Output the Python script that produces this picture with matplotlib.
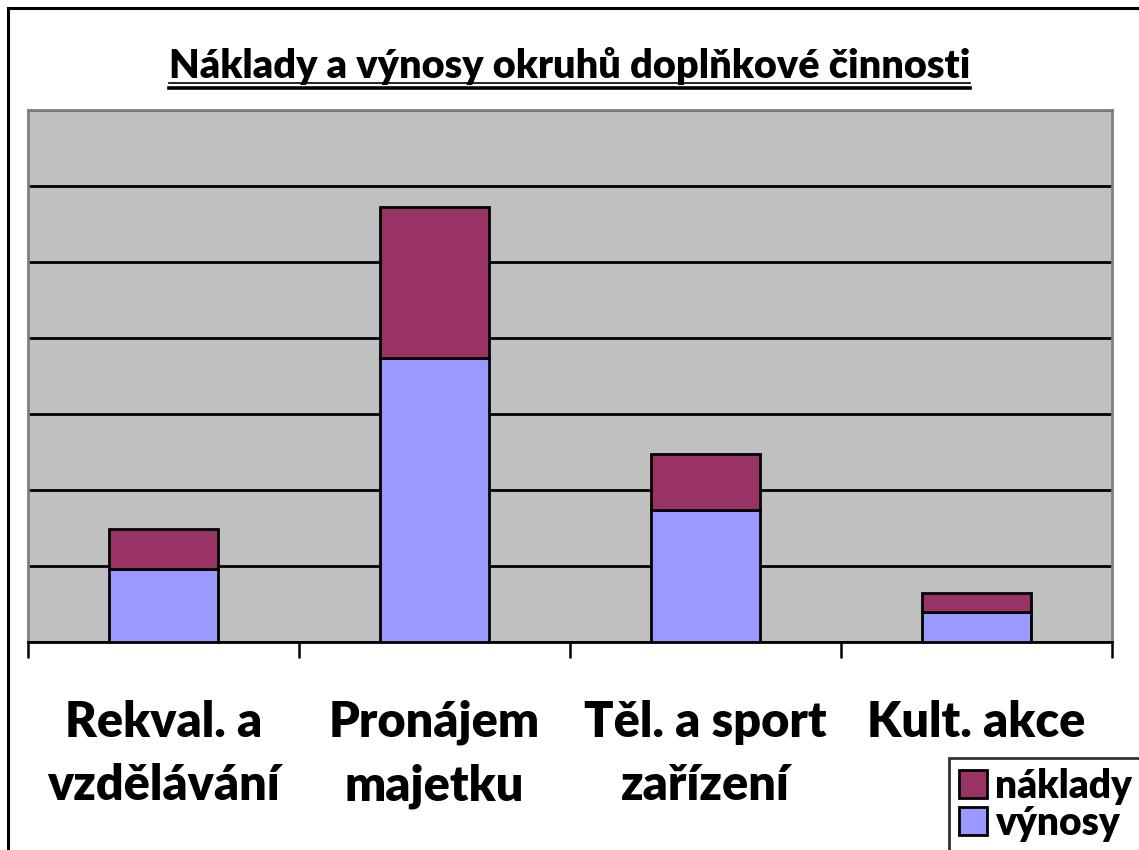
import matplotlib
matplotlib.use("Agg")
import matplotlib.pyplot as plt
from matplotlib.patches import Rectangle, Patch
from matplotlib.lines import Line2D
import numpy as np

categories = ["Rekval. a\nvzdělávání", "Pronájem\nmajetku", "Těl. a sport\nzařízení", "Kult. akce"]
vynosy = [0.96, 3.74, 1.74, 0.39]
naklady = [0.53, 1.98, 0.74, 0.25]
title = "Náklady a výnosy okruhů doplňkové činnosti"

W, H = 1139, 850
DPI = 100
WEIGHT = 'heavy'
plt.rcParams['font.family'] = ['Lato', 'DejaVu Sans']
plt.rcParams['font.weight'] = 'bold'

fig = plt.figure(figsize=(W / DPI, H / DPI), dpi=DPI)

def fx(px):
    return px / W

def fy(py):
    return 1 - py / H

# outer border
fig.patches.append(Rectangle((fx(8), fy(870)), fx(1160) - fx(8), fy(8) - fy(870),
                             transform=fig.transFigure, fill=False, lw=2.2,
                             edgecolor='black', zorder=0))

ax = fig.add_axes([fx(28), fy(642), fx(1112) - fx(28), fy(110) - fy(642)])
ax.set_facecolor('#C0C0C0')
x = np.arange(len(categories))
bw = 0.405
ax.bar(x, vynosy, bw, color='#9999FF', edgecolor='black', linewidth=2, zorder=3, label='výnosy')
ax.bar(x, naklady, bw, bottom=vynosy, color='#993366', edgecolor='black', linewidth=2, zorder=3, label='náklady')

ax.set_xlim(-0.5, len(categories) - 0.5)
ax.set_ylim(0, 7)
ax.set_yticks(np.arange(0, 8, 1))
ax.yaxis.grid(True, color='black', linewidth=2)
ax.set_axisbelow(True)
ax.tick_params(axis='y', left=False, labelleft=False)
ax.set_xticks(np.arange(-0.5, len(categories), 1))
ax.set_xticklabels([])
ax.tick_params(axis='x', direction='out', length=11.5, width=1.8, color='black')
for s in ['left', 'top', 'right']:
    ax.spines[s].set_color('#808080')
    ax.spines[s].set_linewidth(2)
ax.spines['bottom'].set_color('black')
ax.spines['bottom'].set_linewidth(2)

for i, c in enumerate(categories):
    ax.text(i, -0.76, c, ha='center', va='top', fontsize=35, fontweight=WEIGHT,
            linespacing=1.5, transform=ax.transData, clip_on=False)

t = fig.text(0.5, fy(66), title, ha='center', va='center', fontsize=28.5, fontweight=WEIGHT)
fig.canvas.draw()
bb = t.get_window_extent()
x0, x1 = bb.x0 / W, bb.x1 / W
fig.add_artist(Line2D([x0, x1], [fy(83), fy(83)], transform=fig.transFigure, color='black', lw=1.2))
fig.add_artist(Line2D([x0, x1], [fy(87.5), fy(87.5)], transform=fig.transFigure, color='black', lw=2.6))

handles = [Patch(facecolor='#993366', edgecolor='black', linewidth=2),
           Patch(facecolor='#9999FF', edgecolor='black', linewidth=2)]
leg = fig.legend(handles, ['náklady', 'výnosy'], loc='upper left',
                 bbox_to_anchor=(fx(949), fy(758)), frameon=True, fancybox=False,
                 edgecolor='black', prop={'weight': WEIGHT, 'size': 28},
                 handlelength=0.72, handleheight=0.72, handletextpad=0.22,
                 labelspacing=0.0, borderpad=0.25, borderaxespad=0)
leg.get_frame().set_linewidth(2)

fig.savefig("out.png", dpi=DPI)
